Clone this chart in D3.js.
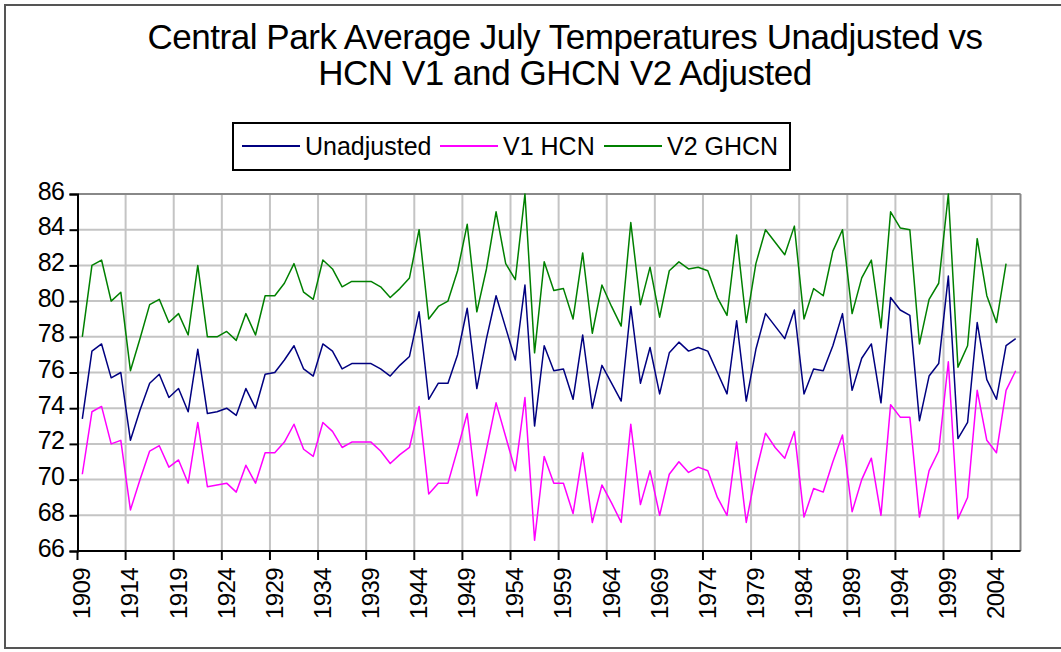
<!DOCTYPE html>
<html>
<head>
<meta charset="utf-8">
<script src="https://cdn.jsdelivr.net/npm/d3@7"></script>
<style>
  html, body { margin: 0; padding: 0; background: #fff; }
  svg { display: block; }
  text { font-family: "Liberation Sans", Arial, sans-serif; fill: #000; }
</style>
</head>
<body>
<svg id="chart" width="1061" height="652"></svg>
<script>
// ---- data ----
const years = d3.range(1909, 2007);   // 1909 .. 2006
const unadjusted = [
  73.4, 77.2, 77.6, 75.7, 76.0, 72.2, 73.9, 75.4, 75.9, 74.6,
  75.1, 73.8, 77.3, 73.7, 73.8, 74.0, 73.6, 75.1, 74.0, 75.9,
  76.0, 76.7, 77.5, 76.2, 75.8, 77.6, 77.2, 76.2, 76.5, 76.5,
  76.5, 76.2, 75.8, 76.4, 76.9, 79.4, 74.5, 75.4, 75.4, 77.0,
  79.6, 75.1, 77.9, 80.3, 78.5, 76.7, 80.9, 73.0, 77.5, 76.1,
  76.2, 74.5, 78.1, 74.0, 76.4, 75.4, 74.4, 79.7, 75.4, 77.4,
  74.8, 77.1, 77.7, 77.2, 77.4, 77.2, 76.0, 74.8, 78.9, 74.4,
  77.3, 79.3, 78.6, 77.9, 79.5, 74.8, 76.2, 76.1, 77.5, 79.3,
  75.0, 76.8, 77.6, 74.3, 80.2, 79.5, 79.2, 73.3, 75.8, 76.5,
  81.4, 72.3, 73.2, 78.8, 75.6, 74.5, 77.5, 77.9
];
const v1hcn = [
  70.3, 73.8, 74.1, 72.0, 72.2, 68.3, 70.0, 71.6, 71.9, 70.7,
  71.1, 69.8, 73.2, 69.6, 69.7, 69.8, 69.3, 70.8, 69.8, 71.5,
  71.5, 72.1, 73.1, 71.7, 71.3, 73.2, 72.7, 71.8, 72.1, 72.1,
  72.1, 71.6, 70.9, 71.4, 71.8, 74.1, 69.2, 69.8, 69.8, 71.7,
  73.7, 69.1, 71.7, 74.3, 72.4, 70.5, 74.6, 66.6, 71.3, 69.8,
  69.8, 68.1, 71.5, 67.6, 69.7, 68.7, 67.6, 73.1, 68.6, 70.5,
  68.0, 70.3, 71.0, 70.4, 70.7, 70.5, 69.0, 68.0, 72.1, 67.6,
  70.4, 72.6, 71.8, 71.2, 72.7, 67.9, 69.5, 69.3, 71.0, 72.5,
  68.2, 70.0, 71.2, 68.0, 74.2, 73.5, 73.5, 67.9, 70.5, 71.6,
  76.6, 67.8, 69.0, 75.0, 72.2, 71.5, 75.0, 76.1
];
const v2ghcn = [
  78.0, 82.0, 82.3, 80.0, 80.5, 76.1, 77.9, 79.8, 80.1, 78.8,
  79.3, 78.1, 82.0, 78.0, 78.0, 78.3, 77.8, 79.3, 78.1, 80.3,
  80.3, 81.0, 82.1, 80.5, 80.1, 82.3, 81.8, 80.8, 81.1, 81.1,
  81.1, 80.8, 80.2, 80.7, 81.3, 84.0, 79.0, 79.7, 80.0, 81.7,
  84.3, 79.4, 81.8, 85.0, 82.1, 81.2, 86.0, 77.1, 82.2, 80.6,
  80.7, 79.0, 82.7, 78.2, 80.9, 79.7, 78.6, 84.4, 79.8, 81.9,
  79.1, 81.7, 82.2, 81.8, 81.9, 81.7, 80.2, 79.2, 83.7, 78.8,
  82.1, 84.0, 83.3, 82.6, 84.2, 79.0, 80.7, 80.3, 82.8, 84.0,
  79.3, 81.3, 82.3, 78.5, 85.0, 84.1, 84.0, 77.6, 80.1, 81.0,
  86.0, 76.3, 77.5, 83.5, 80.3, 78.8, 82.1
];
const yTicks = [66, 68, 70, 72, 74, 76, 78, 80, 82, 84, 86];
const xTickYears = d3.range(1909, 2007, 5);
const seriesNames = ["Unadjusted", "V1 HCN", "V2 GHCN"];
const seriesColors = ["#000080", "#ff00ff", "#008000"];
const titleLines = ["Central Park Average July Temperatures Unadjusted vs", "HCN V1 and GHCN V2 Adjusted"];

// ---- layout ----
const svg = d3.select("#chart");
const plot = { left: 77.5, right: 1020.5, top: 194, bottom: 551 };

// outer frame
svg.append("rect").attr("x", 5).attr("y", 5).attr("width", 1070).attr("height", 643)
  .attr("fill", "#fff").attr("stroke", "#555").attr("stroke-width", 2);

const x = d3.scaleBand().domain(years).range([plot.left, plot.right]).padding(0);
const y = d3.scaleLinear().domain([66, 86]).range([plot.bottom, plot.top]);

// gridlines
const grid = svg.append("g");
grid.selectAll("line.h").data(yTicks.filter(v => v !== 66)).join("line")
  .attr("x1", plot.left).attr("x2", plot.right)
  .attr("y1", d => y(d)).attr("y2", d => y(d))
  .attr("stroke", "#c4c4c4").attr("stroke-width", 2);
grid.selectAll("line.v").data(xTickYears.filter(d => d !== 1909)).join("line")
  .attr("x1", d => x(d)).attr("x2", d => x(d))
  .attr("y1", plot.top).attr("y2", plot.bottom)
  .attr("stroke", "#c4c4c4").attr("stroke-width", 2);
// plot border right/top
svg.append("line").attr("x1", plot.left).attr("x2", plot.right).attr("y1", plot.top).attr("y2", plot.top)
  .attr("stroke", "#888").attr("stroke-width", 2);
svg.append("line").attr("x1", plot.right).attr("x2", plot.right).attr("y1", plot.top).attr("y2", plot.bottom)
  .attr("stroke", "#888").attr("stroke-width", 2);

// y axis
const yAxis = d3.axisLeft(y).tickValues(yTicks).tickSize(8).tickPadding(5).tickFormat(d3.format("d"));
const gy = svg.append("g").attr("transform", `translate(${plot.left},0)`).call(yAxis);
gy.select(".domain").attr("stroke", "#000").attr("stroke-width", 2);
gy.selectAll(".tick line").attr("stroke", "#000").attr("stroke-width", 2);
gy.selectAll(".tick text").attr("font-size", 25).attr("dy", "0.2em").attr("letter-spacing", -0.5)
  .style("font-family", "'Liberation Sans', Arial, sans-serif").attr("fill", "#000");

// x axis: ticks at category boundaries every 5 years
const gx = svg.append("g").attr("transform", `translate(0,${plot.bottom})`);
gx.append("line").attr("x1", plot.left).attr("x2", plot.right).attr("y1", 0).attr("y2", 0)
  .attr("stroke", "#000").attr("stroke-width", 2);
gx.selectAll("line.tk").data(xTickYears).join("line")
  .attr("x1", d => x(d)).attr("x2", d => x(d)).attr("y1", 0).attr("y2", 9)
  .attr("stroke", "#000").attr("stroke-width", 2);
gx.selectAll("text").data(xTickYears).join("text")
  .attr("transform", d => `translate(${x(d) + x.bandwidth() / 2 + 8},${17}) rotate(-90)`)
  .attr("text-anchor", "end")
  .attr("font-size", 24)
  .attr("letter-spacing", -0.6)
  .text(d => d);

// lines
const allSeries = [unadjusted, v1hcn, v2ghcn];
const line = d3.line()
  .x((d, i) => x(years[i]) + x.bandwidth() / 2)
  .y(d => y(d));
svg.append("g").selectAll("path").data(allSeries).join("path")
  .attr("d", d => line(d))
  .attr("fill", "none")
  .attr("stroke", (d, i) => seriesColors[i])
  .attr("stroke-width", 1.5)
  .attr("stroke-linejoin", "round");

// title
svg.append("g").selectAll("text").data(titleLines).join("text")
  .attr("x", 565).attr("y", (d, i) => 49 + i * 36)
  .attr("text-anchor", "middle")
  .attr("font-size", 35)
  .attr("letter-spacing", -0.45)
  .text(d => d);

// legend
const lg = svg.append("g");
lg.append("rect").attr("x", 233).attr("y", 123).attr("width", 557).attr("height", 47)
  .attr("fill", "#fff").attr("stroke", "#000").attr("stroke-width", 2);
const legendX = [242, 440, 604];
const items = lg.selectAll("g.item").data(seriesNames).join("g")
  .attr("transform", (d, i) => `translate(${legendX[i]},146)`);
items.append("line").attr("x1", 0).attr("x2", 58).attr("y1", 0).attr("y2", 0)
  .attr("stroke", (d, i) => seriesColors[i]).attr("stroke-width", 2);
items.append("text").attr("x", 63).attr("y", 9).attr("font-size", 25).text(d => d);
</script>
</body>
</html>
